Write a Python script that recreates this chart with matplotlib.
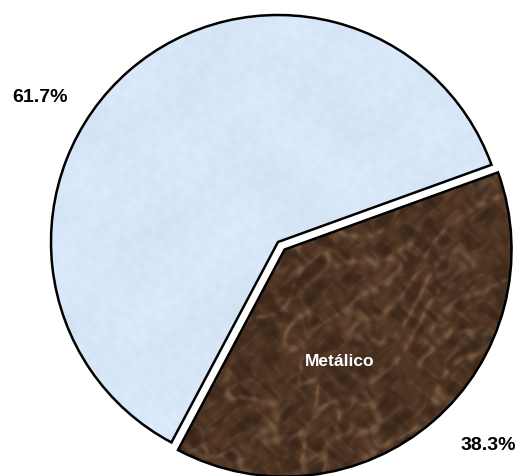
import numpy as np
import matplotlib
matplotlib.use("Agg")
import matplotlib.pyplot as plt

# data
labels = ['Metálico', '']
shares = [38.3, 61.7]
pct_labels = ['38.3%', '61.7%']

blue_base = np.array([216, 231, 247]) / 255.0
brown_base = np.array([72, 48, 32]) / 255.0
brown_vein = np.array([160, 130, 98]) / 255.0

fig = plt.figure(figsize=(5.2, 4.77), dpi=100)
ax = fig.add_axes([0, 0, 1, 1])

center = (278, 234)
radius = 227
# explode is in data units here (pixels)
wedges, _ = ax.pie(shares, startangle=242, counterclock=True,
                   explode=[10, 0], center=center, radius=radius,
                   wedgeprops=dict(edgecolor='black', linewidth=1.8))

# deterministic marble-ish textures
yy, xx = np.mgrid[0:477, 0:520].astype(float)
n1 = (np.sin(xx * 0.045 + 2.5 * np.sin(yy * 0.021)) +
      np.sin(yy * 0.052 + 2.0 * np.sin(xx * 0.027 + 1.3)) +
      0.6 * np.sin((xx + yy) * 0.11 + 1.7 * np.sin(xx * 0.06)))
n2 = (np.sin(xx * 0.13 + 1.9 * np.sin(yy * 0.09)) *
      np.sin(yy * 0.12 + 1.5 * np.sin(xx * 0.08 + 0.7)))
n3 = (np.sin(xx * 0.31 + 1.1 * np.sin(yy * 0.23)) *
      np.sin(yy * 0.27 + 1.3 * np.sin(xx * 0.19 + 2.1)))
vein = np.exp(-(n1 ** 2) * 9) + 0.4 * np.exp(-(n2 ** 2) * 30)
vein = np.clip(vein * (0.6 + 0.4 * n3), 0, 1)

brown_img = (brown_base[None, None, :] * (1 - 0.15 * n2[..., None] + 0.1 * n3[..., None])
             + (brown_vein - brown_base)[None, None, :] * 0.42 * vein[..., None])
brown_img = np.clip(brown_img, 0, 1)
blue_img = blue_base[None, None, :] + 0.012 * (n1 / 2.6)[..., None] + 0.01 * n3[..., None]
blue_img = np.clip(blue_img, 0, 1)

for w, img in zip(wedges, [brown_img, blue_img]):
    im = ax.imshow(img, extent=(0, 520, 0, 477), origin='upper', zorder=2,
                   interpolation='bilinear')
    im.set_clip_path(w)
    w.set_facecolor('none')
    w.set_zorder(3)

ax.set_xlim(0, 520)
ax.set_ylim(0, 477)
ax.set_aspect('equal')
ax.axis('off')

font = 'Liberation Sans'
ax.text(488, 477 - 446, pct_labels[0], ha='center', va='center',
        fontsize=14, fontweight='bold', family=font, color='black')
ax.text(40, 477 - 98, pct_labels[1], ha='center', va='center',
        fontsize=14, fontweight='bold', family=font, color='black')
ax.text(340, 477 - 362, labels[0], ha='center', va='center',
        fontsize=12.5, fontweight='bold', family=font, color='white')

fig.savefig('out.png', dpi=100)
